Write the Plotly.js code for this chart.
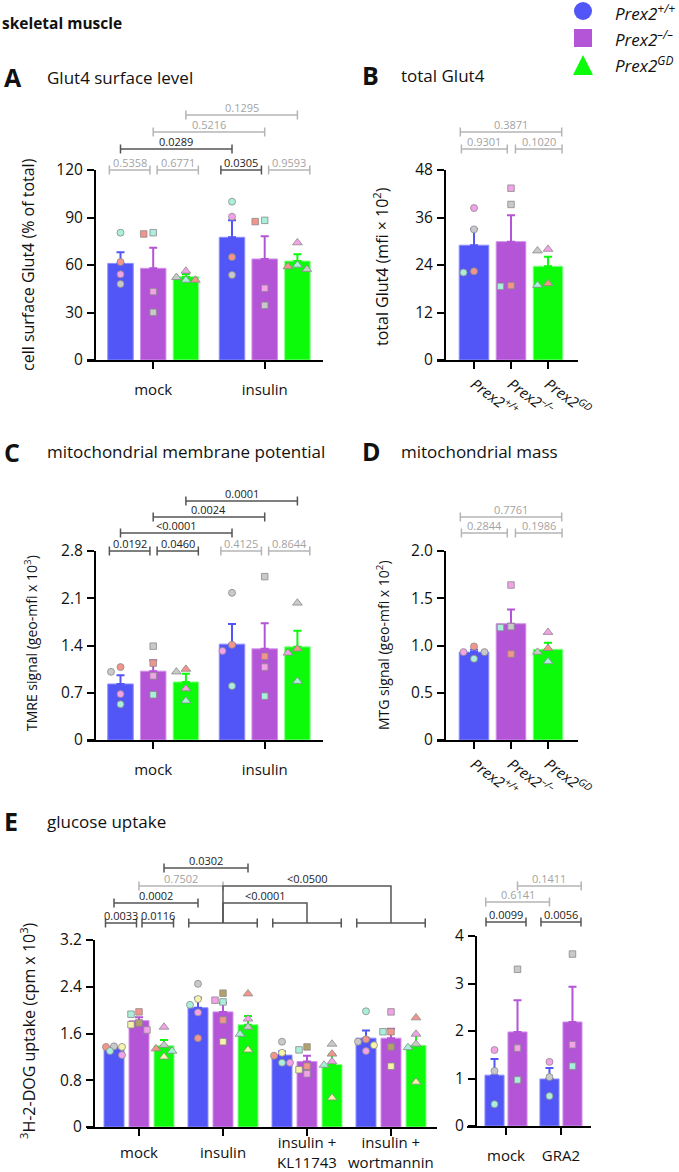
<!DOCTYPE html>
<html>
<head>
<meta charset="utf-8">
<script src="https://cdn.plot.ly/plotly-3.0.1.min.js"></script>
<style>html,body{margin:0;padding:0;background:#fff;}</style>
</head>
<body>
<div id="fig" style="width:679px;height:1172px;"></div>
<script>
// skeletal muscle panels A-E, bars = mean, error = SEM, dots = single mice

// ---------------- data ----------------
var genoLabels = ['<i>Prex2<sup>+/+</sup></i>', '<i>Prex2<sup>\u2013/\u2013</sup></i>', '<i>Prex2<sup>GD</sup></i>'];
var condAC = ['mock', 'insulin'];
var condE = ['mock', 'insulin', 'insulin +<br>KL11743', 'insulin +<br>wortmannin'];
var condER = ['mock', 'GRA2'];

// A: Glut4 surface (% of total), per condition; dots in order cyan, salmon, pink, gray
var meanA_wt = [61.0, 77.5], semA_wt = [7.0, 10.7];
var meanA_ko = [57.9, 63.8], semA_ko = [13.0, 14.3];
var meanA_gd = [52.6, 62.5], semA_gd = [1.7, 4.3];
var ptsA_wt = [[80.4, 61.9, 54.1, 48.0], [100.0, 65.0, 90.5, 53.7]];
var ptsA_ko = [[80.4, 79.6, 43.2, 30.1], [88.2, 87.4, 45.3, 34.5]];
var ptsA_gd = [[50.5, 50.5, 56.2, 52.2], [60.0, 59.0, 74.1, 57.3]];
var pA = ['0.5358', '0.6771', '0.0305', '0.9593', '0.0289', '0.5216', '0.1295'];

// B: total Glut4 (mfi x 10^2)
var meanB_wt = [29.0], semB_wt = [4.1];
var meanB_ko = [29.9], semB_ko = [6.7];
var meanB_gd = [23.7], semB_gd = [2.4];
var ptsB_wt = [[22.1, 22.4, 38.4, 33.0]];
var ptsB_ko = [[18.6, 18.8, 43.4, 39.3]];
var ptsB_gd = [[18.9, 19.3, 28.0, 27.6]];
var pB = ['0.9301', '0.1020', '0.3871'];

// C: TMRE signal (geo-mfi x 10^3)
var meanC_wt = [0.83, 1.42], semC_wt = [0.13, 0.30];
var meanC_ko = [1.02, 1.35], semC_ko = [0.16, 0.38];
var meanC_gd = [0.86, 1.38], semC_gd = [0.12, 0.24];
var ptsC_wt = [[0.53, 1.08, 0.68, 1.01], [0.80, 1.41, 1.32, 2.18]];
var ptsC_ko = [[0.67, 1.14, 0.95, 1.39], [0.65, 1.24, 1.08, 2.42]];
var ptsC_gd = [[0.58, 1.05, 0.76, 1.01], [0.87, 1.35, 1.29, 2.03]];
var pC = ['0.0192', '0.0460', '0.4125', '0.8644', '<0.0001', '0.0024', '0.0001'];

// D: MTG signal (geo-mfi x 10^2)
var meanD_wt = [0.93], semD_wt = [0.025];
var meanD_ko = [1.23], semD_ko = [0.15];
var meanD_gd = [0.96], semD_gd = [0.07];
var ptsD_wt = [[0.86, 0.99, 0.93, 0.93]];
var ptsD_ko = [[1.19, 0.91, 1.64, 1.20]];
var ptsD_gd = [[0.83, 0.97, 1.14, 0.93]];
var pD = ['0.2844', '0.1986', '0.7761'];

// E left: 3H-2-DOG uptake (cpm x 10^3); dots in order gray/olive, salmon, yellow, cyan, pink
var meanE_wt = [1.34, 2.04, 1.23, 1.52], semE_wt = [0.03, 0.17, 0.06, 0.13];
var meanE_ko = [1.82, 1.97, 1.12, 1.52], semE_ko = [0.06, 0.15, 0.10, 0.16];
var meanE_gd = [1.39, 1.75, 1.07, 1.40], semE_gd = [0.10, 0.15, 0.17, 0.18];
var ptsE_wt = [[1.38, 1.37, 1.37, 1.30, 1.23], [2.45, 1.52, 2.19, 2.09, 1.96], [1.46, 1.22, 1.27, 1.10, 1.10], [1.46, 1.50, 1.40, 1.98, 1.30]];
var ptsE_ko = [[1.78, 1.97, 1.75, 1.93, 1.66], [2.29, 1.83, 1.46, 2.14, 2.17], [1.37, 1.04, 0.98, 1.32, 0.91], [1.37, 1.63, 1.04, 1.63, 1.97]];
var ptsE_gd = [[1.40, 1.34, 1.20, 1.30, 1.71], [1.71, 2.28, 1.32, 1.59, 1.85], [1.42, 1.25, 0.50, 1.06, 1.12], [1.42, 1.87, 0.77, 1.36, 1.59]];
var pE = ['0.0033', '0.0116', '0.0002', '0.7502', '0.0302'];
var pEgroup = ['<0.0001', '<0.0500'];

// E right: mock vs GRA2; dots in order pink, gray, cyan
var meanER_wt = [1.07, 0.99], semER_wt = [0.34, 0.23];
var meanER_ko = [1.98, 2.19], semER_ko = [0.67, 0.74];
var ptsER_wt = [[1.60, 1.16, 0.46], [1.35, 1.03, 0.63]];
var ptsER_ko = [[1.64, 3.30, 0.97], [1.71, 3.62, 1.26]];
var pER = ['0.0099', '0.0056', '0.6141', '0.1411'];

// ---------------- style ----------------
var W = 679, H = 1172;
var FONT = 'Open Sans, Arial, sans-serif';
var barCol = ['#5356f7', '#b455d7', '#0bfb0b'];
var barEdge = ['#8c8eff', '#d291ea', '#8bff8b'];
var symbols = ['circle', 'square', 'triangle-up'];
var symSize = [7, 6.5, 8.5];
var dotCol = {cyan: '#a9efdb', salmon: '#f4958b', pink: '#f3a2e8', gray: '#c9c9c9', yellow: '#f7f4a9', olive: '#b3a16c'};
var dots4 = ['cyan', 'salmon', 'pink', 'gray'];
var dotsE = ['gray', 'salmon', 'yellow', 'cyan', 'pink'];
var dotsEko = ['olive', 'salmon', 'yellow', 'cyan', 'pink'];
var dotsER = ['pink', 'gray', 'cyan'];
var darkLine = '#555555', darkText = '#222222', lightLine = '#b5b5b5', lightText = '#a3a3a3';
var trims = {L: [-0.34, -0.1], R: [0.12, 0.38], C: [0, 0], E: [-0.37, 0.37], LC: [-0.38, 0], CR: [0, 0.38]};

function fx(px) { return px / W; }
function fy(px) { return 1 - px / H; }
function isSig(p) { return parseFloat(p.replace('<', '')) <= 0.05; }

var traces = [];
var shapes = [];
var annotations = [];
var layout = {
    width: W, height: H,
    margin: {l: 0, r: 0, t: 0, b: 0},
    paper_bgcolor: '#fff', plot_bgcolor: 'rgba(0,0,0,0)',
    showlegend: false, barmode: 'overlay',
    font: {family: FONT, color: '#111'},
    shapes: shapes, annotations: annotations
};

// spread the dots of one bar so they do not sit on top of each other
function swarm(vals, pxX, pxY, spread) {
    var order = vals.map(function (v, i) { return i; }).sort(function (a, b) { return vals[b] - vals[a]; });
    var off = [], placed = [];
    var cands = [0, -spread, spread, -spread / 2, spread / 2];
    order.forEach(function (i) {
        var best = 0, bestD = -1;
        for (var c = 0; c < cands.length; c++) {
            var d = Infinity;
            placed.forEach(function (j) {
                var dx = (cands[c] - off[j]) * pxX, dy = (vals[i] - vals[j]) * pxY;
                d = Math.min(d, Math.sqrt(dx * dx + dy * dy));
            });
            if (d >= 7.5) { best = cands[c]; break; }
            if (d > bestD) { bestD = d; best = cands[c]; }
        }
        off[i] = best;
        placed.push(i);
    });
    return off;
}

var axN = 0;
function addPanel(p) {
    axN++;
    var xa = axN === 1 ? 'x' : 'x' + axN, ya = axN === 1 ? 'y' : 'y' + axN;
    var pxY = (p.bottom - p.top) / (p.yRange[1] - p.yRange[0]);
    p.xa = xa;
    p.pos = function (idx) { return Math.floor(idx / p.nPer) * p.groupStep + idx % p.nPer; };

    layout['xaxis' + (axN === 1 ? '' : axN)] = {
        domain: [fx(p.left), fx(p.right)],
        range: [(p.left - p.c0) / p.unit, (p.right - p.c0) / p.unit],
        anchor: ya, showline: true, linewidth: 2, linecolor: '#000',
        ticks: 'outside', ticklen: 7, tickwidth: 2, tickcolor: '#000',
        tickmode: 'array', tickvals: p.tickvals, ticktext: p.ticktext,
        showticklabels: !!p.ticktext,
        tickangle: p.tickangle || 0, ticklabelstandoff: p.standoff || 4,
        tickfont: {size: p.xfont || 15, color: '#111'},
        showgrid: false, zeroline: false, fixedrange: true
    };
    layout['yaxis' + (axN === 1 ? '' : axN)] = {
        domain: [fy(p.bottom), fy(p.top)], range: p.yRange,
        anchor: 'free', position: fx(p.yAxisX),
        showline: true, linewidth: 2, linecolor: '#000',
        ticks: 'outside', ticklen: 7, tickwidth: 2, tickcolor: '#000',
        tickmode: 'array', tickvals: p.yTicks, ticktext: p.yText,
        ticklabelstandoff: 1,
        tickfont: {size: 15.5, color: '#111'},
        showgrid: false, zeroline: false, fixedrange: true
    };

    p.series.forEach(function (s, i) {
        var g = p.genos ? p.genos[i] : i;
        var xs = s.mean.map(function (m, k) { return k * p.groupStep + i; });
        traces.push({
            type: 'bar', x: xs, y: s.mean, width: p.barWidth, xaxis: xa, yaxis: ya,
            marker: {color: barCol[g], line: {color: barEdge[g], width: 1}},
            error_y: {type: 'data', symmetric: false, array: s.sem,
                arrayminus: s.sem.map(function () { return 0; }),
                color: barCol[g], thickness: 2, width: 4},
            hoverinfo: 'skip'
        });
        var px = [], py = [], pc = [];
        s.pts.forEach(function (vals, k) {
            var off = swarm(vals, p.unit, pxY, p.spreadPx / p.unit);
            vals.forEach(function (v, j) {
                px.push(k * p.groupStep + i + off[j]);
                py.push(v);
                pc.push(dotCol[s.colors[j]]);
            });
        });
        traces.push({
            type: 'scatter', mode: 'markers', x: px, y: py, xaxis: xa, yaxis: ya,
            cliponaxis: false, hoverinfo: 'skip',
            marker: {symbol: symbols[g], size: symSize[g], color: pc, line: {color: '#8a8a8a', width: 0.8}}
        });
    });
}

function addBracket(p, spec, text, dark) {
    var a = p.pos(spec[0]) + trims[spec[2]][0];
    var b = p.pos(spec[1]) + trims[spec[2]][1];
    var y = fy(spec[3]), yt = fy(spec[3] - 4.5), yb = fy(spec[3] + 4.5);
    shapes.push({
        type: 'path', xref: p.xa, yref: 'paper',
        path: 'M' + a + ',' + yt + 'L' + a + ',' + yb + 'M' + a + ',' + y + 'L' + b + ',' + y +
              'M' + b + ',' + yt + 'L' + b + ',' + yb,
        line: {color: dark ? darkLine : lightLine, width: 1.5}
    });
    if (text) {
        annotations.push({xref: p.xa, yref: 'paper', x: (a + b) / 2, y: fy(spec[3] - 7.5),
            text: text, showarrow: false, xanchor: 'center', yanchor: 'middle',
            font: {size: 11, color: dark ? darkText : lightText}});
    }
}

function addConnector(p, spec, text) {
    var a = p.pos(spec[0]), b = p.pos(spec[1]);
    var y0 = fy(spec[2]), y1 = fy(spec[3]);
    shapes.push({
        type: 'path', xref: p.xa, yref: 'paper',
        path: 'M' + a + ',' + y0 + 'L' + a + ',' + y1 + 'L' + b + ',' + y1 + 'L' + b + ',' + y0,
        line: {color: darkLine, width: 1.5}
    });
    annotations.push({xref: p.xa, yref: 'paper', x: (a + b) / 2, y: fy(spec[3] - 7.5),
        text: text, showarrow: false, xanchor: 'center', yanchor: 'middle',
        font: {size: 11, color: darkText}});
}

function brackets(p, specs, texts) {
    specs.forEach(function (s, i) { addBracket(p, s, texts[i], isSig(texts[i])); });
}

function txt(x, y, text, size, opts) {
    var a = {xref: 'paper', yref: 'paper', x: fx(x), y: fy(y), text: text, showarrow: false,
        xanchor: 'left', yanchor: 'middle', font: {size: size, color: '#111', family: FONT}};
    for (var k in opts) a[k] = opts[k];
    annotations.push(a);
}

function fmt1(v) { return v === 0 ? '0' : v.toFixed(1); }

// ---------------- panels ----------------
var panelA = {left: 87, right: 323, top: 170, bottom: 360, yAxisX: 95, c0: 120.5, unit: 32.7,
    groupStep: 3.41, nPer: 3, barWidth: 0.78, spreadPx: 9.5,
    yRange: [0, 120], yTicks: [0, 30, 60, 90, 120],
    tickvals: [1, 4.41], ticktext: condAC, standoff: 8,
    series: [
        {mean: meanA_wt, sem: semA_wt, pts: ptsA_wt, colors: dots4},
        {mean: meanA_ko, sem: semA_ko, pts: ptsA_ko, colors: dots4},
        {mean: meanA_gd, sem: semA_gd, pts: ptsA_gd, colors: dots4}]};
addPanel(panelA);
brackets(panelA, [[0, 1, 'L', 170], [1, 2, 'R', 170], [3, 4, 'L', 170], [4, 5, 'R', 170],
    [0, 3, 'C', 149], [1, 4, 'C', 132], [2, 5, 'C', 115]], pA);

var panelB = {left: 437, right: 578, top: 170, bottom: 360, yAxisX: 445, c0: 474, unit: 37,
    groupStep: 3, nPer: 3, barWidth: 0.8, spreadPx: 10.5,
    yRange: [0, 48], yTicks: [0, 12, 24, 36, 48],
    tickvals: [0, 1, 2], ticktext: genoLabels, tickangle: 36, xfont: 15, standoff: 1,
    series: [
        {mean: meanB_wt, sem: semB_wt, pts: ptsB_wt, colors: dots4},
        {mean: meanB_ko, sem: semB_ko, pts: ptsB_ko, colors: dots4},
        {mean: meanB_gd, sem: semB_gd, pts: ptsB_gd, colors: dots4}]};
addPanel(panelB);
brackets(panelB, [[0, 1, 'L', 149], [1, 2, 'R', 149], [0, 2, 'E', 132]], pB);

var panelC = {left: 87, right: 323, top: 551, bottom: 740, yAxisX: 95, c0: 120.5, unit: 32.7,
    groupStep: 3.41, nPer: 3, barWidth: 0.78, spreadPx: 9.5,
    yRange: [0, 2.8], yTicks: [0, 0.7, 1.4, 2.1, 2.8],
    tickvals: [1, 4.41], ticktext: condAC, standoff: 8,
    series: [
        {mean: meanC_wt, sem: semC_wt, pts: ptsC_wt, colors: dots4},
        {mean: meanC_ko, sem: semC_ko, pts: ptsC_ko, colors: dots4},
        {mean: meanC_gd, sem: semC_gd, pts: ptsC_gd, colors: dots4}]};
panelC.yText = panelC.yTicks.map(fmt1);
addPanel(panelC);
brackets(panelC, [[0, 1, 'L', 551], [1, 2, 'R', 551], [3, 4, 'L', 551], [4, 5, 'R', 551],
    [0, 3, 'C', 533], [1, 4, 'C', 517], [2, 5, 'C', 501]], pC);

var panelD = {left: 437, right: 578, top: 551, bottom: 740, yAxisX: 445, c0: 474, unit: 37,
    groupStep: 3, nPer: 3, barWidth: 0.8, spreadPx: 10.5,
    yRange: [0, 2], yTicks: [0, 0.5, 1, 1.5, 2],
    tickvals: [0, 1, 2], ticktext: genoLabels, tickangle: 36, xfont: 15, standoff: 1,
    series: [
        {mean: meanD_wt, sem: semD_wt, pts: ptsD_wt, colors: dots4},
        {mean: meanD_ko, sem: semD_ko, pts: ptsD_ko, colors: dots4},
        {mean: meanD_gd, sem: semD_gd, pts: ptsD_gd, colors: dots4}]};
panelD.yText = panelD.yTicks.map(fmt1);
addPanel(panelD);
brackets(panelD, [[0, 1, 'L', 533], [1, 2, 'R', 533], [0, 2, 'E', 517]], pD);

var panelE = {left: 87, right: 437, top: 940, bottom: 1127, yAxisX: 94, c0: 114, unit: 25,
    groupStep: 3.36, nPer: 3, barWidth: 0.8, spreadPx: 8,
    yRange: [0, 3.2], yTicks: [0, 0.8, 1.6, 2.4, 3.2],
    tickvals: [1, 4.36, 7.72, 11.08],
    series: [
        {mean: meanE_wt, sem: semE_wt, pts: ptsE_wt, colors: dotsE},
        {mean: meanE_ko, sem: semE_ko, pts: ptsE_ko, colors: dotsEko},
        {mean: meanE_gd, sem: semE_gd, pts: ptsE_gd, colors: dotsE}]};
panelE.yText = panelE.yTicks.map(fmt1);
addPanel(panelE);
brackets(panelE, [[0, 1, 'L', 923], [1, 2, 'R', 923], [0, 3, 'C', 903], [1, 4, 'C', 886], [2, 5, 'C', 868]], pE);
[[3, 5, 'E', 923], [6, 8, 'E', 923], [9, 11, 'E', 923]].forEach(function (s) { addBracket(panelE, s, '', true); });
addConnector(panelE, [4, 7, 923, 903], pEgroup[0]);
addConnector(panelE, [4, 10, 923, 886], pEgroup[1]);
condE.forEach(function (c, k) {
    annotations.push({xref: panelE.xa, yref: 'paper', x: panelE.tickvals[k], y: fy(1152),
        text: c, showarrow: false, xanchor: 'center', yanchor: 'middle', borderpad: 0,
        font: {size: 15, color: '#111'}});
});

var panelER = {left: 467, right: 591, top: 936, bottom: 1126, yAxisX: 476, c0: 494.5, unit: 23,
    groupStep: 2.39, nPer: 2, barWidth: 0.83, spreadPx: 6, genos: [0, 1],
    yRange: [0, 4], yTicks: [0, 1, 2, 3, 4],
    tickvals: [0.5, 2.89], ticktext: condER, standoff: 8,
    series: [
        {mean: meanER_wt, sem: semER_wt, pts: ptsER_wt, colors: dotsER},
        {mean: meanER_ko, sem: semER_ko, pts: ptsER_ko, colors: dotsER}]};
addPanel(panelER);
brackets(panelER, [[0, 1, 'E', 922], [2, 3, 'E', 922], [0, 2, 'LC', 902], [1, 3, 'CR', 886]], pER);

// ---------------- titles ----------------
txt(0, 23, '<b>skeletal muscle</b>', 15.5);
txt(2, 77, '<b>A</b>', 25);
txt(45, 77, 'Glut4 surface level', 17);
txt(360, 75, '<b>B</b>', 25);
txt(399, 75, 'total Glut4', 17);
txt(2, 452, '<b>C</b>', 25);
txt(45, 452, 'mitochondrial membrane potential', 17);
txt(360, 451, '<b>D</b>', 25);
txt(399, 451, 'mitochondrial mass', 17);
txt(2, 821, '<b>E</b>', 25);
txt(45, 821, 'glucose uptake', 17);

var vt = {textangle: -90, xanchor: 'center', yanchor: 'middle'};
txt(28, 265, 'cell surface Glut4 (% of total)', 16, vt);
txt(381, 267, 'total Glut4 (mfi \u00d7 10<sup>2</sup>)', 16, vt);
txt(31, 643, 'TMRE signal (geo-mfi x 10<sup>3</sup>)', 14, vt);
txt(383, 645, 'MTG signal (geo-mfi x 10<sup>2</sup>)', 14, vt);
txt(28, 1031, '<sup>3</sup>H-2-DOG uptake (cpm x 10<sup>3</sup>)', 16, vt);

// ---------------- legend ----------------
shapes.push({type: 'circle', xref: 'paper', yref: 'paper', x0: fx(574), x1: fx(592), y0: fy(20), y1: fy(2),
    fillcolor: barCol[0], line: {width: 0}});
shapes.push({type: 'rect', xref: 'paper', yref: 'paper', x0: fx(574), x1: fx(592), y0: fy(47), y1: fy(29),
    fillcolor: barCol[1], line: {width: 0}});
shapes.push({type: 'path', xref: 'paper', yref: 'paper',
    path: 'M' + fx(573) + ',' + fy(75) + 'L' + fx(583) + ',' + fy(55) + 'L' + fx(593) + ',' + fy(75) + 'Z',
    fillcolor: barCol[2], line: {width: 0}});
txt(613, 12, genoLabels[0], 17);
txt(613, 38, genoLabels[1], 17);
txt(613, 65, genoLabels[2], 17);

Plotly.newPlot('fig', traces, layout, {displayModeBar: false, staticPlot: true});
</script>
</body>
</html>
